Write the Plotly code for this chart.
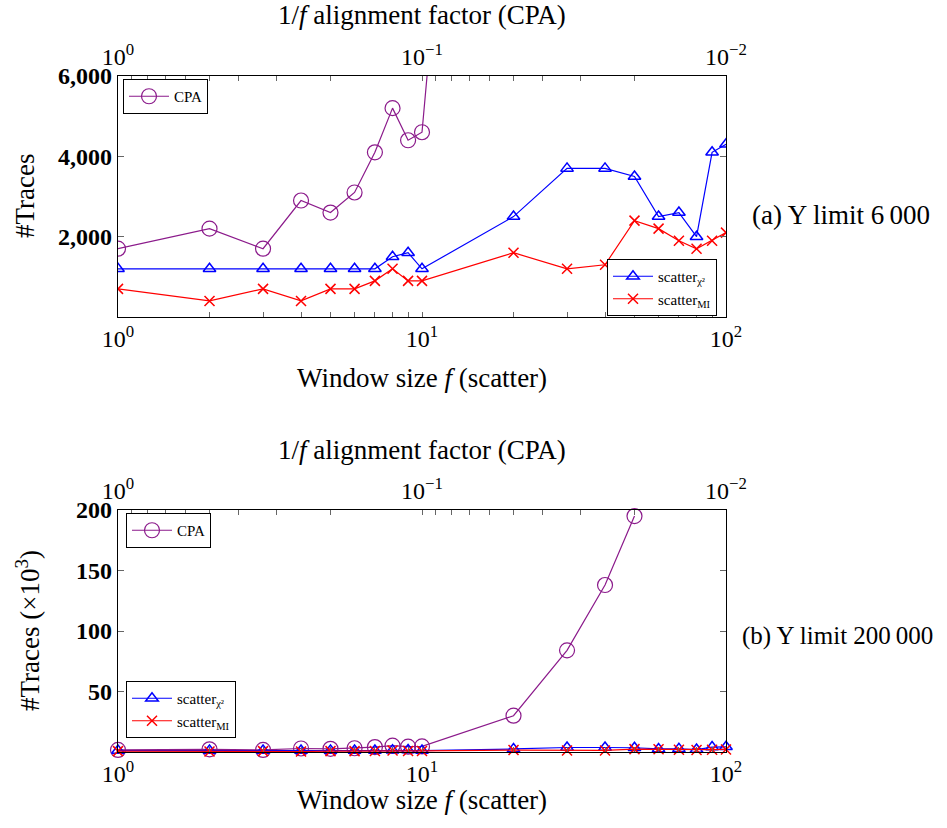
import plotly.graph_objects as go

# ---- data ----
window_f = [1, 2, 3, 4, 5, 6, 7, 8, 9, 10, 20, 30, 40, 50, 60, 70, 80, 90, 100]
cpa_f = [1, 2, 3, 4, 5, 6, 7, 8, 9, 10, 20, 30, 40, 50]
cpa_traces = [1700, 2200, 1700, 2900, 2600, 3100, 4100, 5200, 4400, 4600, 30000, 84000, 138000, 195000]
chi2_traces = [1200, 1200, 1200, 1200, 1200, 1200, 1200, 1500, 1600, 1200, 2500, 3700, 3700, 3500, 2500, 2600, 2000, 4100, 4300]
mi_traces = [700, 400, 700, 400, 700, 700, 900, 1200, 900, 900, 1600, 1200, 1300, 2400, 2200, 1900, 1700, 1900, 2100]

top_yticks = [2000, 4000, 6000]
top_yticklabels = ["<b>2,000</b>", "<b>4,000</b>", "<b>6,000</b>"]
bot_yticks = [50000, 100000, 150000, 200000]
bot_yticklabels = ["<b>50</b>", "<b>100</b>", "<b>150</b>", "<b>200</b>"]

FONT = "Liberation Serif"
PURPLE = "#8B1A8B"
BLUE = "#0000FF"
RED = "#FF0000"

# log tick positions
bottom_tickvals = [m * 10 ** d for d in (0, 1) for m in range(1, 10)] + [100]
bottom_ticktext = ["10<sup>%d</sup>" % d if m == 1 else "" for d in (0, 1) for m in range(1, 10)] + ["10<sup>2</sup>"]
top_tickvals = [m * 10.0 ** (-d) for d in (1, 2) for m in range(10, 0, -1)]
top_tickvals.append(0.01)
top_ticktext = ["10<sup>0</sup>" if abs(v - 1.0) < 1e-12 else
                ("10<sup>−1</sup>" if abs(v - 0.1) < 1e-12 else
                 ("10<sup>−2</sup>" if abs(v - 0.01) < 1e-12 else "")) for v in top_tickvals]

fig = go.Figure()

def add_series(xaxis, yaxis, legends, clip):
    fig.add_trace(go.Scatter(x=cpa_f, y=cpa_traces, name="CPA", mode="lines+markers",
                             line=dict(color=PURPLE, width=1.2),
                             marker=dict(symbol="circle-open", size=15, color=PURPLE, line=dict(width=1.2)),
                             xaxis=xaxis, yaxis=yaxis, legend=legends[0], cliponaxis=clip))
    fig.add_trace(go.Scatter(x=window_f, y=chi2_traces, name="scatter<sub>χ²</sub>", mode="lines+markers",
                             line=dict(color=BLUE, width=1.2),
                             marker=dict(symbol="triangle-up-open", size=11, color=BLUE, line=dict(width=1.5)),
                             xaxis=xaxis, yaxis=yaxis, legend=legends[1], cliponaxis=clip))
    fig.add_trace(go.Scatter(x=window_f, y=mi_traces, name="scatter<sub>MI</sub>", mode="lines+markers",
                             line=dict(color=RED, width=1.2),
                             marker=dict(symbol="x-thin-open", size=10, color=RED, line=dict(width=1.5, color=RED)),
                             xaxis=xaxis, yaxis=yaxis, legend=legends[2], cliponaxis=clip))

add_series("x", "y", ["legend", "legend2", "legend2"], True)
add_series("x3", "y2", ["legend3", "legend4", "legend4"], False)

W, H = 947, 828
xdom = [118 / W, 726 / W]
top_dom = [(H - 317) / H, (H - 76) / H]
bot_dom = [(H - 752) / H, (H - 510) / H]

tickfont = dict(family=FONT, size=24, color="black")
common_x = dict(type="log", showgrid=False, zeroline=False, showline=True, linecolor="black", linewidth=1.3,
                ticks="inside", ticklen=5, tickcolor="#666", tickfont=tickfont, automargin=False)
common_y = dict(showgrid=False, zeroline=False, showline=True, linecolor="black", linewidth=1.3,
                ticks="inside", ticklen=6, tickcolor="#666", mirror="ticks",
                tickfont=dict(family=FONT, size=24, color="black"), automargin=False)

fig.update_layout(
    width=W, height=H, margin=dict(l=0, r=0, t=0, b=0, autoexpand=False),
    paper_bgcolor="white", plot_bgcolor="white",
    font=dict(family=FONT, color="black"),
    xaxis=dict(common_x, domain=xdom, anchor="y", range=[0, 2], tickvals=bottom_tickvals,
               ticktext=bottom_ticktext, mirror=True),
    xaxis2=dict(common_x, domain=xdom, anchor="y", overlaying="x", side="top", range=[0, -2],
                tickvals=top_tickvals, ticktext=top_ticktext),
    yaxis=dict(common_y, domain=top_dom, anchor="x", range=[0, 6000], tickvals=top_yticks,
               ticktext=top_yticklabels),
    xaxis3=dict(common_x, domain=xdom, anchor="y2", range=[0, 2], tickvals=bottom_tickvals,
                ticktext=bottom_ticktext, mirror=True),
    xaxis4=dict(common_x, domain=xdom, anchor="y2", overlaying="x3", side="top", range=[0, -2],
                tickvals=top_tickvals, ticktext=top_ticktext),
    yaxis2=dict(common_y, domain=bot_dom, anchor="x3", range=[0, 200000], tickvals=bot_yticks,
                ticktext=bot_yticklabels),
    showlegend=True,
)

legend_common = dict(bgcolor="white", bordercolor="black", borderwidth=1,
                     font=dict(family=FONT, size=15, color="black"), tracegroupgap=0, itemwidth=40)
fig.update_layout(
    legend=dict(legend_common, x=123 / W, y=(H - 79) / H, xanchor="left", yanchor="top"),
    legend2=dict(legend_common, x=717 / W, y=(H - 316) / H, xanchor="right", yanchor="bottom"),
    legend3=dict(legend_common, x=126 / W, y=(H - 513) / H, xanchor="left", yanchor="top"),
    legend4=dict(legend_common, x=126 / W, y=(H - 681) / H, xanchor="left", yanchor="top"),
)

# dummy traces to show the top axes
fig.add_trace(go.Scatter(x=[], y=[], xaxis="x2", yaxis="y", showlegend=False))
fig.add_trace(go.Scatter(x=[], y=[], xaxis="x4", yaxis="y2", showlegend=False))

lab = dict(family=FONT, size=27, color="black")
ann = [
    dict(text="1/<i>f</i> alignment factor (CPA)", x=422 / W, y=(H - 15) / H),
    dict(text="Window size <i>f</i> (scatter)", x=422 / W, y=(H - 378) / H),
    dict(text="1/<i>f</i> alignment factor (CPA)", x=422 / W, y=(H - 450) / H),
    dict(text="Window size <i>f</i> (scatter)", x=422 / W, y=(H - 800) / H),
    dict(text="(a) Y limit 6\u2009000", x=841 / W, y=(H - 215) / H),
    dict(text="(b) Y limit 200\u2009000", x=837 / W, y=(H - 636) / H, font=dict(family=FONT, size=25, color="black")),
    dict(text="#Traces", x=25 / W, y=(H - 196) / H, textangle=-90),
    dict(text="#Traces (×10<sup>3</sup>)", x=28 / W, y=(H - 631) / H, textangle=-90),
]
for a in ann:
    a.setdefault("font", lab)
    fig.add_annotation(xref="paper", yref="paper", showarrow=False,
                       xanchor="center", yanchor="middle", **a)

fig.write_html("out.html", config={"displayModeBar": False},
               post_script="document.body.style.margin='0';")
